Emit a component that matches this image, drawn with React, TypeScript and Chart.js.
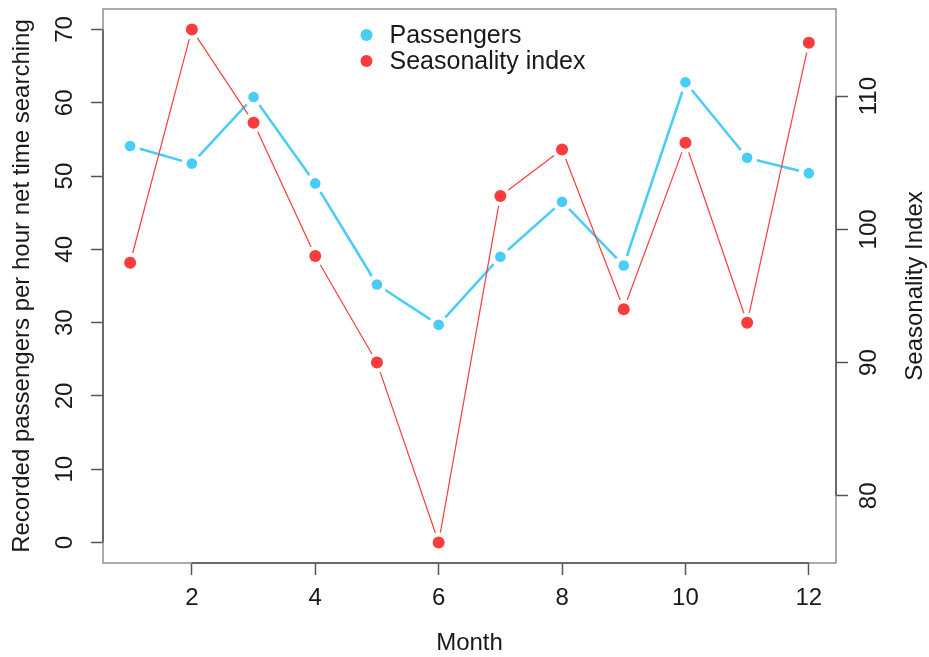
import React, { useEffect, useRef } from 'react';
import { Chart, registerables } from 'chart.js';

Chart.register(...registerables);

// ---- data ----
const months = [1, 2, 3, 4, 5, 6, 7, 8, 9, 10, 11, 12];
const passengers = [54.1, 51.7, 60.8, 49.0, 35.2, 29.7, 39.0, 46.5, 37.8, 62.8, 52.5, 50.4];
const seasonality = [97.5, 115.0, 108.0, 98.0, 90.0, 76.5, 102.5, 106.0, 94.0, 106.5, 93.0, 114.0];
const xTicks = [2, 4, 6, 8, 10, 12];
const leftTicks = [0, 10, 20, 30, 40, 50, 60, 70];
const rightTicks = [80, 90, 100, 110];
const leftLimits = [0, 70];
const seriesNames = ['Passengers', 'Seasonality index'];
const xTitle = 'Month';
const leftTitle = 'Recorded passengers per hour net time searching';
const rightTitle = 'Seasonality Index';

const BLUE = '#47CDF8';
const RED = '#FA3C3C';
const FONT = "'Liberation Sans', Arial, Helvetica, sans-serif";
const TEXT = '#1a1a1a';
const AXIS = '#555555';

// R-style 4% range extension
const ext = (lo: number, hi: number) => {
  const d = (hi - lo) * 0.04;
  return [lo - d, hi + d];
};
const xRange = ext(Math.min(...months), Math.max(...months));
const leftRange = ext(leftLimits[0], leftLimits[1]);
const rightRange = ext(Math.min(...seasonality), Math.max(...seasonality));

const GAP = 10;

const gapLines = {
  id: 'gapLines',
  beforeDatasetsDraw(chart: any) {
    const ctx = chart.ctx;
    const { left, right, top, bottom } = chart.chartArea;
    const xs = chart.scales.x;
    const yl = chart.scales.y;
    const yr = chart.scales.y1;
    ctx.save();
    // box
    ctx.strokeStyle = '#8f8f8f';
    ctx.lineWidth = 1.5;
    ctx.strokeRect(left, top, right - left, bottom - top);
    // axis segments
    ctx.strokeStyle = AXIS;
    ctx.beginPath();
    ctx.moveTo(xs.getPixelForValue(xTicks[0]), bottom);
    ctx.lineTo(xs.getPixelForValue(xTicks[xTicks.length - 1]), bottom);
    ctx.moveTo(left, yl.getPixelForValue(leftTicks[0]));
    ctx.lineTo(left, yl.getPixelForValue(leftTicks[leftTicks.length - 1]));
    ctx.moveTo(right, yr.getPixelForValue(rightTicks[0]));
    ctx.lineTo(right, yr.getPixelForValue(rightTicks[rightTicks.length - 1]));
    ctx.stroke();
    // gapped lines (R type = "b")
    chart.data.datasets.forEach((ds: any, i: number) => {
      const pts = chart.getDatasetMeta(i).data;
      ctx.strokeStyle = ds.lineColor;
      ctx.lineWidth = ds.lineWidth;
      for (let k = 0; k < pts.length - 1; k++) {
        const a = pts[k];
        const b = pts[k + 1];
        const dx = b.x - a.x;
        const dy = b.y - a.y;
        const len = Math.hypot(dx, dy);
        if (len <= 2 * GAP) continue;
        const ux = dx / len;
        const uy = dy / len;
        ctx.beginPath();
        ctx.moveTo(a.x + ux * GAP, a.y + uy * GAP);
        ctx.lineTo(b.x - ux * GAP, b.y - uy * GAP);
        ctx.stroke();
      }
    });
    ctx.restore();
  },
  afterDraw(chart: any) {
    const ctx = chart.ctx;
    const { left, right, top, bottom } = chart.chartArea;
    ctx.save();
    // right axis title, reading bottom to top
    ctx.fillStyle = TEXT;
    ctx.font = `24px ${FONT}`;
    ctx.textAlign = 'center';
    ctx.textBaseline = 'middle';
    ctx.translate(chart.width - 14, (top + bottom) / 2);
    ctx.rotate(-Math.PI / 2);
    ctx.fillText(rightTitle, 0, 0);
    ctx.restore();
    // legend
    ctx.save();
    const cx = (left + right) / 2;
    ctx.font = `25px ${FONT}`;
    ctx.textAlign = 'left';
    ctx.textBaseline = 'middle';
    chart.data.datasets.forEach((ds: any, i: number) => {
      const y = top + 26 + i * 26;
      ctx.fillStyle = ds.backgroundColor;
      ctx.beginPath();
      ctx.arc(cx - 103, y, 6, 0, Math.PI * 2);
      ctx.fill();
      ctx.fillStyle = TEXT;
      ctx.fillText(ds.label, cx - 80, y + 1);
    });
    ctx.restore();
  },
};

export default function App() {
  const ref = useRef<HTMLCanvasElement | null>(null);
  useEffect(() => {
    if (!ref.current) return;
    const tickFont = { family: FONT, size: 24 };
    const grid = {
      display: true,
      drawOnChartArea: false,
      drawTicks: true,
      tickLength: 12,
      tickColor: AXIS,
      tickWidth: 1.5,
    };
    const chart = new Chart(ref.current, {
      type: 'line',
      data: {
        datasets: [
          {
            label: seriesNames[0],
            data: months.map((m, i) => ({ x: m, y: passengers[i] })),
            yAxisID: 'y',
            showLine: false,
            backgroundColor: BLUE,
            borderColor: BLUE,
            pointRadius: 5.3,
            pointBorderWidth: 0,
            lineColor: BLUE,
            lineWidth: 2.5,
          } as any,
          {
            label: seriesNames[1],
            data: months.map((m, i) => ({ x: m, y: seasonality[i] })),
            yAxisID: 'y1',
            showLine: false,
            backgroundColor: RED,
            borderColor: RED,
            pointRadius: 6,
            pointBorderWidth: 0,
            lineColor: RED,
            lineWidth: 1.2,
          } as any,
        ],
      },
      options: {
        animation: false,
        responsive: false,
        layout: { padding: { top: 9, left: 0, right: 0, bottom: 0 } },
        plugins: { legend: { display: false }, tooltip: { enabled: false } },
        scales: {
          x: {
            type: 'linear',
            position: 'bottom',
            min: xRange[0],
            max: xRange[1],
            afterBuildTicks: (s: any) => { s.ticks = xTicks.map((v) => ({ value: v })); },
            afterFit: (s: any) => { s.height = 94; s.paddingLeft = 0; s.paddingRight = 0; },
            ticks: { font: tickFont, color: TEXT, padding: 9, autoSkip: false, maxRotation: 0 },
            grid,
            border: { display: false },
            title: {
              display: true,
              text: xTitle,
              font: { family: FONT, size: 24, lineHeight: 1.2 },
              color: TEXT,
              padding: { top: 0, bottom: -1 },
            },
          },
          y: {
            type: 'linear',
            position: 'left',
            min: leftRange[0],
            max: leftRange[1],
            afterBuildTicks: (s: any) => { s.ticks = leftTicks.map((v) => ({ value: v })); },
            afterFit: (s: any) => { s.width = 103; s.paddingTop = 0; s.paddingBottom = 0; },
            ticks: { font: tickFont, color: TEXT, padding: 12.4, autoSkip: false, minRotation: 90, maxRotation: 90, crossAlign: 'center' },
            grid,
            border: { display: false },
            title: {
              display: true,
              text: leftTitle,
              font: { family: FONT, size: 24, lineHeight: 1.2 },
              color: TEXT,
              padding: { top: 8, bottom: 0 },
            },
          },
          y1: {
            type: 'linear',
            position: 'right',
            min: rightRange[0],
            max: rightRange[1],
            afterBuildTicks: (s: any) => { s.ticks = rightTicks.map((v) => ({ value: v })); },
            afterFit: (s: any) => { s.width = 93; s.paddingTop = 0; s.paddingBottom = 0; },
            ticks: { font: tickFont, color: TEXT, padding: 1, autoSkip: false, minRotation: 90, maxRotation: 90, crossAlign: 'center' },
            grid,
            border: { display: false },
          },
        },
      } as any,
      plugins: [gapLines],
    });
    return () => chart.destroy();
  }, []);
  return (
    <canvas
      ref={ref}
      width={929}
      height={657}
      style={{ position: 'absolute', left: 0, top: 0, display: 'block', background: '#fff' }}
    />
  );
}
